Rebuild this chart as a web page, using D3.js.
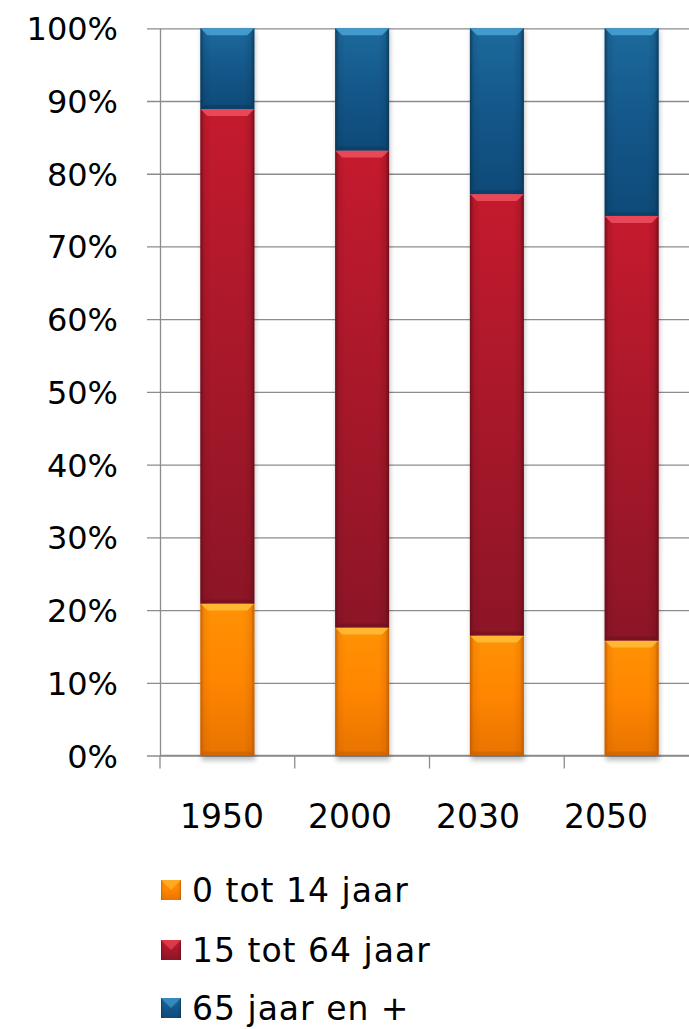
<!DOCTYPE html>
<html>
<head>
<meta charset="utf-8">
<script src="https://cdn.jsdelivr.net/npm/d3@7"></script>
<style>
  html, body { margin: 0; padding: 0; background: #fff; overflow: hidden; }
  svg { display: block; }
  text { font-family: "DejaVu Sans", Verdana, sans-serif; fill: #000; }
</style>
</head>
<body>
<script>
// Age structure of the population, share per age group (%)
const years = ["1950", "2000", "2030", "2050"];
const groups = ["0 tot 14 jaar", "15 tot 64 jaar", "65 jaar en +"];
const young = [20.9, 17.6, 16.5, 15.8];
const working = [68.0, 65.6, 60.7, 58.4];
const old = [11.1, 16.8, 22.8, 25.8];
const yTicks = [0, 10, 20, 30, 40, 50, 60, 70, 80, 90, 100];

const W = 689, H = 1029;
const plot = { left: 160, right: 699, top: 28.3, bottom: 755.5 };

const svg = d3.select("body").append("svg").attr("width", W).attr("height", H);
const defs = svg.append("defs");

// Per-group fills: top colour, mid colour, bottom colour, bevel highlight, edge shade
const styles = [
  { top: "#ff9205", mid: "#ff8600", bot: "#e87400", hi: "#ffbd3a", edge: "#b85400" },
  { top: "#c51a2e", mid: "#a8182a", bot: "#8c1526", hi: "#f0505f", edge: "#5e0c16" },
  { top: "#1c6a9c", mid: "#14578a", bot: "#0e4a78", hi: "#4aa3d6", edge: "#07324f" }
];

styles.forEach((s, i) => {
  const g = defs.append("linearGradient").attr("id", "v" + i)
    .attr("x1", 0).attr("y1", 0).attr("x2", 0).attr("y2", 1);
  g.append("stop").attr("offset", "0%").attr("stop-color", s.top);
  g.append("stop").attr("offset", "50%").attr("stop-color", s.mid);
  g.append("stop").attr("offset", "100%").attr("stop-color", s.bot);
  const hg = defs.append("linearGradient").attr("id", "h" + i)
    .attr("x1", 0).attr("y1", 0).attr("x2", 1).attr("y2", 0);
  hg.append("stop").attr("offset", "0%").attr("stop-color", s.edge).attr("stop-opacity", 0.75);
  hg.append("stop").attr("offset", "7%").attr("stop-color", s.edge).attr("stop-opacity", 0.15);
  hg.append("stop").attr("offset", "20%").attr("stop-color", s.edge).attr("stop-opacity", 0);
  hg.append("stop").attr("offset", "80%").attr("stop-color", s.edge).attr("stop-opacity", 0);
  hg.append("stop").attr("offset", "93%").attr("stop-color", s.edge).attr("stop-opacity", 0.2);
  hg.append("stop").attr("offset", "100%").attr("stop-color", s.edge).attr("stop-opacity", 0.8);
});

const shadow = defs.append("filter").attr("id", "shadow")
  .attr("x", "-20%").attr("y", "-5%").attr("width", "140%").attr("height", "115%");
shadow.append("feGaussianBlur").attr("stdDeviation", 2.5);

const x = d3.scaleBand().domain(years).range([plot.left, plot.right])
  .paddingInner(0.6).paddingOuter(0.3);
const y = d3.scaleLinear().domain([0, 100]).range([plot.bottom, plot.top]);

// Gridlines and y axis
const yAxis = d3.axisLeft(y).tickValues(yTicks).tickFormat(d => d + "%")
  .tickSize(-(W - plot.left)).tickSizeOuter(0).tickPadding(42);
const gy = svg.append("g").attr("transform", `translate(${plot.left},0)`).call(yAxis);
gy.select(".domain").attr("stroke", "#8c8c8c").attr("stroke-width", 1.3);
gy.selectAll(".tick line").attr("stroke", "#8c8c8c").attr("stroke-width", 1.3)
  .attr("x1", -13);
gy.selectAll(".tick text").attr("font-size", 32).attr("font-family", "DejaVu Sans, sans-serif")
  .attr("fill", "#000").attr("dy", "0.36em");

// x axis line and category tick marks
const xTickPos = years.map((d, i) => plot.left + i * x.step()).concat([plot.left + years.length * x.step()]);
const gx = svg.append("g");
gx.append("line").attr("x1", plot.left).attr("x2", W).attr("y1", plot.bottom).attr("y2", plot.bottom)
  .attr("stroke", "#8c8c8c").attr("stroke-width", 1.3);
gx.selectAll("line.tk").data(xTickPos).join("line").attr("class", "tk")
  .attr("x1", d => d).attr("x2", d => d).attr("y1", plot.bottom).attr("y2", plot.bottom + 13)
  .attr("stroke", "#8c8c8c").attr("stroke-width", 1.3);

// Year labels
const xl = d3.scaleBand().domain(years).range([158, 670]);
const gxl = svg.append("g").attr("transform", `translate(0,${plot.bottom})`)
  .call(d3.axisBottom(xl).tickSize(0).tickPadding(0));
gxl.select(".domain").remove();
gxl.selectAll(".tick text").attr("font-size", 33).attr("font-family", "DejaVu Sans, sans-serif")
  .attr("fill", "#000").attr("dy", 0).attr("y", 72);

// Stacked bars
const rows = years.map((yr, i) => ({ year: yr, a: young[i], b: working[i], c: old[i] }));
const stack = d3.stack().keys(["a", "b", "c"]);
const series = stack(rows);

// soft shadow beneath each bar
svg.append("g").selectAll("rect").data(rows).join("rect")
  .attr("x", d => x(d.year) + 1).attr("width", x.bandwidth())
  .attr("y", y(100) + 2).attr("height", y(0) - y(100) + 3)
  .attr("fill", "#000").attr("opacity", 0.25).attr("filter", "url(#shadow)");

const bars = svg.append("g");
series.forEach((s, si) => {
  const g = bars.append("g");
  s.forEach(d => {
    const x0 = x(d.data.year), bw = x.bandwidth();
    const y0 = y(d[1]), y1 = y(d[0]), h = y1 - y0;
    g.append("rect").attr("x", x0).attr("y", y0).attr("width", bw).attr("height", h)
      .attr("fill", `url(#v${si})`);
    g.append("rect").attr("x", x0).attr("y", y0).attr("width", bw).attr("height", h)
      .attr("fill", `url(#h${si})`);
    // bevel highlight along the top edge
    const b = 7;
    g.append("path")
      .attr("d", `M${x0},${y0} L${x0 + bw},${y0} L${x0 + bw - b},${y0 + b} L${x0 + b},${y0 + b} Z`)
      .attr("fill", styles[si].hi).attr("opacity", 0.85);
    // darker rim along the bottom edge
    g.append("path")
      .attr("d", `M${x0},${y1} L${x0 + bw},${y1} L${x0 + bw - 4},${y1 - 4} L${x0 + 4},${y1 - 4} Z`)
      .attr("fill", styles[si].edge).attr("opacity", 0.35);
  });
});

// Legend
const legendY = [880, 940, 998];
const legend = svg.append("g");
const lg = legend.selectAll("g").data(groups).join("g")
  .attr("transform", (d, i) => `translate(161,${legendY[i]})`);
lg.append("rect").attr("width", 20).attr("height", 20)
  .attr("fill", (d, i) => `url(#v${i})`);
lg.append("rect").attr("width", 20).attr("height", 20)
  .attr("fill", (d, i) => `url(#h${i})`);
lg.append("path").attr("d", "M0,0 L20,0 L10,10 Z")
  .attr("fill", (d, i) => styles[i].hi).attr("opacity", 0.6);
lg.append("text").attr("x", 31).attr("y", 22).attr("font-size", 33)
  .attr("font-family", "DejaVu Sans, sans-serif").attr("letter-spacing", 1).text(d => d);
</script>
</body>
</html>
